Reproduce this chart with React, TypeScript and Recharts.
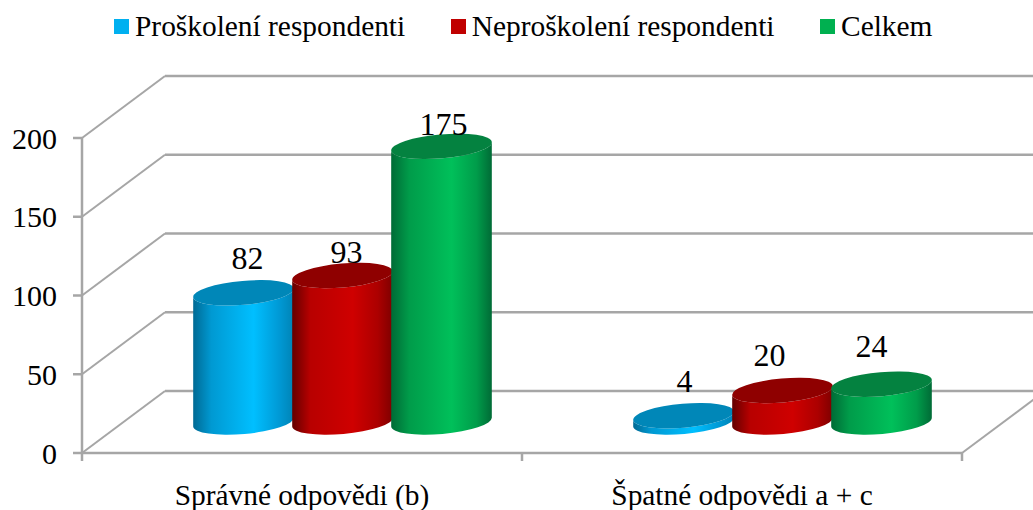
import { BarChart, Bar, XAxis, YAxis, CartesianGrid, Legend } from "recharts";

const categories = ["Správné odpovědi (b)", "Špatné odpovědi a + c"];
const proskoleni = [82, 4];
const neproskoleni = [93, 20];
const celkem = [175, 24];
const yTicks = [0, 50, 100, 150, 200];

const data = categories.map((name, i) => ({
  name,
  proskoleni: proskoleni[i],
  neproskoleni: neproskoleni[i],
  celkem: celkem[i],
}));

const serif = '"Liberation Serif", serif';
const gridColor = "#a6a6a6";

// 3D look: the bars stand halfway into the floor, the back wall sits a full depth behind
const depthX = 83;
const depthY = 62;
const barDx = 40;
const barDy = -31;
const rx = 50.5;
const ry = 12;
const tilt = 5;

const series = [
  {
    key: "proskoleni",
    label: "Proškolení respondenti",
    color: "#00b0f0",
    cap: "#0087b8",
    stops: ["#006a94", "#0099d2", "#00bfff", "#009ad6", "#0083b5"],
    // nudges for the value labels, one per category
    labelDx: [4, 1],
    labelDy: [-24, -24],
  },
  {
    key: "neproskoleni",
    label: "Neproškolení respondenti",
    color: "#c00000",
    cap: "#8f0000",
    stops: ["#640000", "#b80000", "#cf0000", "#ac0000", "#7e0000"],
    labelDx: [4, -13],
    labelDy: [-13, -25],
  },
  {
    key: "celkem",
    label: "Celkem",
    color: "#00b050",
    cap: "#048240",
    stops: ["#006b36", "#009c4a", "#00c05a", "#009c4a", "#006b36"],
    labelDx: [2, -10],
    labelDy: [-11, -27],
  },
];

function cylinderShape(gradientId: string, cap: string) {
  return (props: any) => {
    const { x, y, width, height } = props;
    const cx = x + width / 2 + barDx;
    const top = y + barDy;
    const bottom = y + height + barDy;
    const a = (tilt * Math.PI) / 180;
    const ox = rx * Math.cos(a);
    const oy = rx * Math.sin(a);
    const side =
      `M${cx - ox},${top + oy} L${cx - ox},${bottom + oy} ` +
      `A${rx},${ry} ${-tilt} 0 0 ${cx + ox},${bottom - oy} ` +
      `L${cx + ox},${top - oy} ` +
      `A${rx},${ry} ${-tilt} 0 1 ${cx - ox},${top + oy} Z`;
    return (
      <g>
        <path d={side} fill={`url(#${gradientId})`} />
        <ellipse
          cx={cx}
          cy={top}
          rx={rx}
          ry={ry}
          fill={cap}
          transform={`rotate(${-tilt} ${cx} ${top})`}
        />
      </g>
    );
  };
}

function valueLabel(labelDx: number[], labelDy: number[]) {
  return (props: any) => {
    const { x, y, width, value, index } = props;
    return (
      <text
        x={x + width / 2 + barDx + labelDx[index]}
        y={y + barDy + labelDy[index]}
        textAnchor="middle"
        fontFamily={serif}
        fontSize={32}
        fill="#000"
      >
        {value}
      </text>
    );
  };
}

// back wall line plus the diagonal coming out to the front axis
function WallLine(props: any) {
  const { x1, x2, y1, index } = props;
  const isFloor = index === 0 || y1 > 440;
  return (
    <g key={`wall-${index}`}>
      <line x1={x1} y1={y1} x2={x1 + depthX} y2={y1 - depthY} stroke={gridColor} strokeWidth={2} />
      <line x1={x1 + depthX} y1={y1 - depthY} x2={1033} y2={y1 - depthY} stroke={gridColor} strokeWidth={2.5} />
      {isFloor && (
        <line x1={x2} y1={y1} x2={x2 + depthX} y2={y1 - depthY} stroke={gridColor} strokeWidth={2} />
      )}
    </g>
  );
}

// short tick marks between the categories
function BandTick(props: any) {
  const { x1, y2, index } = props;
  return <line key={`band-${index}`} x1={x1} x2={x1} y1={y2} y2={y2 + 8} stroke={gridColor} strokeWidth={2.5} />;
}

function LegendRow() {
  return (
    <div
      style={{
        display: "flex",
        height: 40,
        marginLeft: 114,
        alignItems: "center",
        fontFamily: serif,
        fontSize: 29.4,
        color: "#000",
        whiteSpace: "nowrap",
      }}
    >
      {series.map((s) => (
        <div key={s.key} style={{ display: "flex", alignItems: "center", marginRight: 45.5 }}>
          <span style={{ width: 15, height: 15, background: s.color, marginRight: 6 }} />
          <span>{s.label}</span>
        </div>
      ))}
    </div>
  );
}

export default function App() {
  return (
    <div style={{ position: "absolute", left: 0, top: 0, width: 1033, height: 510, background: "#fff", overflow: "hidden" }}>
      <BarChart
        width={1033}
        height={510}
        data={data}
        barSize={99}
        barGap={0}
        margin={{ top: 98, right: 71, bottom: 0, left: 0 }}
      >
        <defs>
          {series.map((s) => (
            <linearGradient key={s.key} id={`side-${s.key}`} x1="0" y1="0" x2="1" y2="0">
              <stop offset="0%" stopColor={s.stops[0]} />
              <stop offset="18%" stopColor={s.stops[1]} />
              <stop offset="60%" stopColor={s.stops[2]} />
              <stop offset="85%" stopColor={s.stops[3]} />
              <stop offset="100%" stopColor={s.stops[4]} />
            </linearGradient>
          ))}
        </defs>
        <Legend
          verticalAlign="top"
          align="left"
          content={<LegendRow />}
          wrapperStyle={{ top: 6, left: 0, width: 1033, height: 40 }}
        />
        <CartesianGrid
          horizontal={WallLine}
          vertical={BandTick}
          verticalCoordinatesGenerator={({ offset }: any) => [
            offset.left,
            offset.left + offset.width / 2,
            offset.left + offset.width,
          ]}
        />
        <XAxis
          dataKey="name"
          height={57}
          interval={0}
          axisLine={{ stroke: gridColor, strokeWidth: 2.5 }}
          tickLine={false}
          tickMargin={25}
          tick={{ fontFamily: serif, fontSize: 29.4, fill: "#000" }}
        />
        <YAxis
          width={82}
          domain={[0, 200]}
          ticks={yTicks}
          axisLine={{ stroke: gridColor, strokeWidth: 2.5 }}
          tickLine={{ stroke: gridColor, strokeWidth: 2.5 }}
          tickSize={9}
          tickMargin={16}
          tick={{ fontFamily: serif, fontSize: 30, fill: "#000" }}
        />
        {series.map((s) => (
          <Bar
            key={s.key}
            dataKey={s.key}
            fill={s.color}
            isAnimationActive={false}
            shape={cylinderShape(`side-${s.key}`, s.cap)}
            label={valueLabel(s.labelDx, s.labelDy)}
          />
        ))}
      </BarChart>
    </div>
  );
}
